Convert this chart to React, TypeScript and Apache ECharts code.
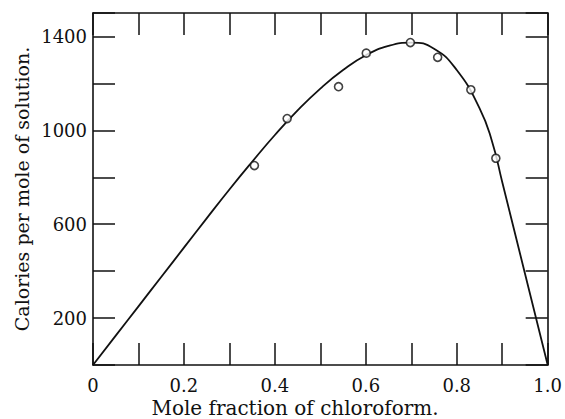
import React, { useEffect, useRef } from "react";
import * as echarts from "echarts";

const curveX = [0, 0.05, 0.1, 0.15, 0.2, 0.25, 0.3, 0.35, 0.4, 0.45, 0.5, 0.55, 0.6, 0.65, 0.7, 0.75, 0.8, 0.85, 0.877, 0.9, 0.95, 1.0];
const curveY = [0, 125, 250, 375, 500, 625, 748, 866, 980, 1085, 1178, 1257, 1320, 1360, 1374, 1348, 1257, 1095, 957, 780, 390, 0];

const pointsX = [0.355, 0.427, 0.54, 0.601, 0.698, 0.758, 0.831, 0.886];
const pointsY = [850, 1050, 1186, 1329, 1374, 1311, 1173, 881];

const xTicks = [0, 0.2, 0.4, 0.6, 0.8, 1.0];
const yTicks = [200, 600, 1000, 1400];

const xTitle = "Mole fraction of chloroform.";
const yTitle = "Calories per mole of solution.";

const FONT = "DejaVu Serif";

export default function App() {
  const ref = useRef<HTMLDivElement>(null);
  useEffect(() => {
    if (!ref.current) return;
    const chart = echarts.init(ref.current, null, { renderer: "svg", width: 565, height: 419 });
    const near = (v: number, arr: number[]) => arr.some((t) => Math.abs(t - v) < 1e-6);
    const axisLine = { show: true, onZero: false, lineStyle: { color: "#111", width: 1.6 } };
    const tick = { show: true, inside: true, length: 22, lineStyle: { color: "#111", width: 1.5 } };
    chart.setOption({
      animation: false,
      backgroundColor: "#fff",
      grid: { left: 93, top: 13, right: 3, bottom: 54, containLabel: false },
      xAxis: [
        {
          type: "value",
          min: 0,
          max: 1,
          interval: 0.1,
          position: "bottom",
          axisLine,
          axisTick: tick,
          splitLine: { show: false },
          axisLabel: {
            margin: 11,
            color: "#111",
            fontFamily: FONT,
            fontSize: 18,
            formatter: (v: number) => {
              if (!near(v, xTicks)) return "";
              if (Math.abs(v) < 1e-6) return "0";
              return v.toFixed(1);
            },
          },
        },
        {
          type: "value",
          min: 0,
          max: 1,
          interval: 0.1,
          position: "top",
          axisLine,
          axisTick: tick,
          splitLine: { show: false },
          axisLabel: { show: false },
        },
      ],
      yAxis: [
        {
          type: "value",
          min: 0,
          max: 1500,
          interval: 200,
          position: "left",
          axisLine,
          axisTick: tick,
          splitLine: { show: false },
          axisLabel: {
            margin: 6,
            color: "#111",
            fontFamily: FONT,
            fontSize: 18,
            formatter: (v: number) => (near(v, yTicks) ? String(v) : ""),
          },
        },
        {
          type: "value",
          min: 0,
          max: 1500,
          interval: 200,
          position: "right",
          axisLine,
          axisTick: tick,
          splitLine: { show: false },
          axisLabel: { show: false },
        },
      ],
      graphic: [
        {
          type: "text",
          x: 295,
          y: 408,
          style: {
            text: xTitle,
            fill: "#111",
            font: `20px "${FONT}"`,
            align: "center",
            verticalAlign: "middle",
          },
        },
        {
          type: "text",
          x: 22,
          y: 189,
          rotation: Math.PI / 2,
          style: {
            text: yTitle,
            fill: "#111",
            font: `19px "${FONT}"`,
            align: "center",
            verticalAlign: "middle",
          },
        },
      ],
      series: [
        {
          type: "line",
          data: curveX.map((x, i) => [x, curveY[i]]),
          smooth: true,
          showSymbol: false,
          lineStyle: { color: "#111", width: 1.8 },
          z: 2,
        },
        {
          type: "scatter",
          data: pointsX.map((x, i) => [x, pointsY[i]]),
          symbol: "circle",
          symbolSize: 8,
          itemStyle: { color: "#fff", borderColor: "#111", borderWidth: 1.6 },
          z: 3,
        },
      ],
    });
    return () => chart.dispose();
  }, []);
  return (
    <div
      ref={ref}
      style={{ position: "fixed", left: 0, top: 0, width: 565, height: 419, background: "#fff" }}
    />
  );
}
